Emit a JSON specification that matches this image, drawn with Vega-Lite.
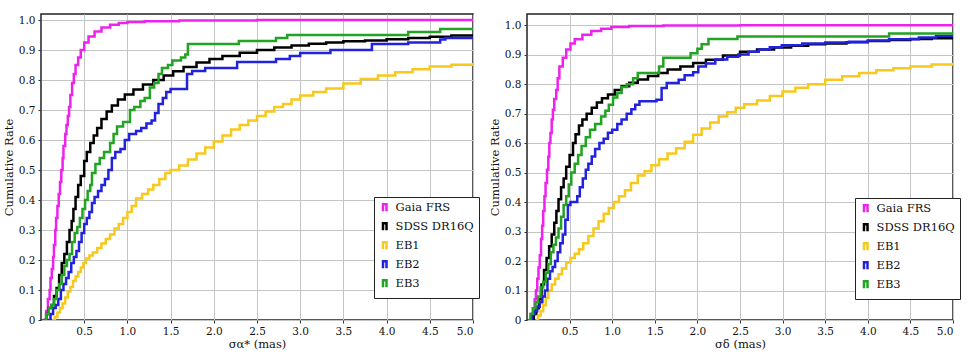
{
  "$schema": "https://vega.github.io/schema/vega-lite/v6.json",
  "background": "white",
  "padding": {"left": 2, "top": 13, "right": 5, "bottom": 0},
  "spacing": 7,
  "config": {
    "font": "DejaVu Serif",
    "view": {"stroke": "#222222", "strokeWidth": 1.5},
    "axis": {
      "grid": true, "gridColor": "#c4c4c4", "gridWidth": 1, "gridOpacity": 1,
      "domain": false, "tickColor": "#333333", "tickSize": 3,
      "labelFont": "DejaVu Serif", "labelFontSize": 10.5, "labelColor": "#111111", "labelPadding": 3,
      "titleFont": "DejaVu Serif", "titleFontSize": 11.5, "titleFontWeight": "normal", "titleColor": "#111111"
    },
    "legend": {
      "orient": "none",
      "strokeColor": "#222222", "fillColor": "white", "padding": 5,
      "symbolType": "M-0.5,1L-0.5,-1L0.5,-1L0.5,1",
      "symbolSize": 50, "symbolStrokeWidth": 2.5,
      "labelFont": "DejaVu Serif", "labelFontSize": 11.5, "labelColor": "#111111",
      "rowPadding": 1, "labelOffset": 5, "labelLimit": 200
    }
  },
  "resolve": {"scale": {"color": "independent"}, "legend": {"color": "independent"}},
  "datasets": {
    "left": [
      {"s":"Gaia FRS","x":0.03,"y":0},{"s":"Gaia FRS","x":0.06,"y":0.03},{"s":"Gaia FRS","x":0.08,"y":0.07},{"s":"Gaia FRS","x":0.10,"y":0.10},{"s":"Gaia FRS","x":0.11,"y":0.14},{"s":"Gaia FRS","x":0.125,"y":0.17},{"s":"Gaia FRS","x":0.14,"y":0.21},{"s":"Gaia FRS","x":0.15,"y":0.25},{"s":"Gaia FRS","x":0.165,"y":0.30},{"s":"Gaia FRS","x":0.175,"y":0.34},{"s":"Gaia FRS","x":0.19,"y":0.38},{"s":"Gaia FRS","x":0.205,"y":0.42},{"s":"Gaia FRS","x":0.22,"y":0.46},{"s":"Gaia FRS","x":0.235,"y":0.50},{"s":"Gaia FRS","x":0.25,"y":0.54},{"s":"Gaia FRS","x":0.26,"y":0.58},{"s":"Gaia FRS","x":0.28,"y":0.62},{"s":"Gaia FRS","x":0.295,"y":0.65},{"s":"Gaia FRS","x":0.31,"y":0.68},{"s":"Gaia FRS","x":0.325,"y":0.71},{"s":"Gaia FRS","x":0.34,"y":0.75},{"s":"Gaia FRS","x":0.36,"y":0.79},{"s":"Gaia FRS","x":0.38,"y":0.82},{"s":"Gaia FRS","x":0.40,"y":0.85},{"s":"Gaia FRS","x":0.43,"y":0.875},{"s":"Gaia FRS","x":0.46,"y":0.90},{"s":"Gaia FRS","x":0.50,"y":0.925},{"s":"Gaia FRS","x":0.55,"y":0.945},{"s":"Gaia FRS","x":0.62,"y":0.962},{"s":"Gaia FRS","x":0.70,"y":0.975},{"s":"Gaia FRS","x":0.80,"y":0.984},{"s":"Gaia FRS","x":0.90,"y":0.99},{"s":"Gaia FRS","x":1.0,"y":0.993},{"s":"Gaia FRS","x":1.2,"y":0.996},{"s":"Gaia FRS","x":1.6,"y":0.998},{"s":"Gaia FRS","x":2.5,"y":1.0},{"s":"Gaia FRS","x":5.0,"y":1.0},
      {"s":"SDSS DR16Q","x":0.03,"y":0},{"s":"SDSS DR16Q","x":0.06,"y":0.02},{"s":"SDSS DR16Q","x":0.09,"y":0.04},{"s":"SDSS DR16Q","x":0.12,"y":0.05},{"s":"SDSS DR16Q","x":0.15,"y":0.08},{"s":"SDSS DR16Q","x":0.18,"y":0.107},{"s":"SDSS DR16Q","x":0.21,"y":0.15},{"s":"SDSS DR16Q","x":0.24,"y":0.19},{"s":"SDSS DR16Q","x":0.27,"y":0.22},{"s":"SDSS DR16Q","x":0.30,"y":0.26},{"s":"SDSS DR16Q","x":0.33,"y":0.30},{"s":"SDSS DR16Q","x":0.355,"y":0.33},{"s":"SDSS DR16Q","x":0.375,"y":0.37},{"s":"SDSS DR16Q","x":0.40,"y":0.41},{"s":"SDSS DR16Q","x":0.43,"y":0.45},{"s":"SDSS DR16Q","x":0.46,"y":0.48},{"s":"SDSS DR16Q","x":0.50,"y":0.53},{"s":"SDSS DR16Q","x":0.53,"y":0.56},{"s":"SDSS DR16Q","x":0.57,"y":0.59},{"s":"SDSS DR16Q","x":0.61,"y":0.615},{"s":"SDSS DR16Q","x":0.65,"y":0.64},{"s":"SDSS DR16Q","x":0.70,"y":0.67},{"s":"SDSS DR16Q","x":0.76,"y":0.695},{"s":"SDSS DR16Q","x":0.82,"y":0.715},{"s":"SDSS DR16Q","x":0.89,"y":0.735},{"s":"SDSS DR16Q","x":0.97,"y":0.752},{"s":"SDSS DR16Q","x":1.07,"y":0.768},{"s":"SDSS DR16Q","x":1.18,"y":0.785},{"s":"SDSS DR16Q","x":1.30,"y":0.80},{"s":"SDSS DR16Q","x":1.42,"y":0.815},{"s":"SDSS DR16Q","x":1.53,"y":0.829},{"s":"SDSS DR16Q","x":1.65,"y":0.843},{"s":"SDSS DR16Q","x":1.80,"y":0.858},{"s":"SDSS DR16Q","x":1.95,"y":0.87},{"s":"SDSS DR16Q","x":2.1,"y":0.88},{"s":"SDSS DR16Q","x":2.3,"y":0.891},{"s":"SDSS DR16Q","x":2.5,"y":0.90},{"s":"SDSS DR16Q","x":2.7,"y":0.908},{"s":"SDSS DR16Q","x":2.9,"y":0.915},{"s":"SDSS DR16Q","x":3.1,"y":0.921},{"s":"SDSS DR16Q","x":3.3,"y":0.925},{"s":"SDSS DR16Q","x":3.5,"y":0.929},{"s":"SDSS DR16Q","x":3.75,"y":0.932},{"s":"SDSS DR16Q","x":4.0,"y":0.936},{"s":"SDSS DR16Q","x":4.25,"y":0.94},{"s":"SDSS DR16Q","x":4.5,"y":0.944},{"s":"SDSS DR16Q","x":4.75,"y":0.948},{"s":"SDSS DR16Q","x":5.0,"y":0.952},
      {"s":"EB1","x":0.13,"y":0},{"s":"EB1","x":0.16,"y":0.01},{"s":"EB1","x":0.19,"y":0.025},{"s":"EB1","x":0.22,"y":0.04},{"s":"EB1","x":0.25,"y":0.055},{"s":"EB1","x":0.28,"y":0.075},{"s":"EB1","x":0.31,"y":0.095},{"s":"EB1","x":0.34,"y":0.11},{"s":"EB1","x":0.37,"y":0.13},{"s":"EB1","x":0.40,"y":0.145},{"s":"EB1","x":0.43,"y":0.16},{"s":"EB1","x":0.46,"y":0.175},{"s":"EB1","x":0.49,"y":0.19},{"s":"EB1","x":0.52,"y":0.205},{"s":"EB1","x":0.56,"y":0.215},{"s":"EB1","x":0.60,"y":0.225},{"s":"EB1","x":0.65,"y":0.24},{"s":"EB1","x":0.70,"y":0.255},{"s":"EB1","x":0.75,"y":0.27},{"s":"EB1","x":0.80,"y":0.285},{"s":"EB1","x":0.85,"y":0.305},{"s":"EB1","x":0.90,"y":0.32},{"s":"EB1","x":0.95,"y":0.34},{"s":"EB1","x":1.00,"y":0.36},{"s":"EB1","x":1.05,"y":0.38},{"s":"EB1","x":1.10,"y":0.405},{"s":"EB1","x":1.17,"y":0.42},{"s":"EB1","x":1.24,"y":0.435},{"s":"EB1","x":1.30,"y":0.45},{"s":"EB1","x":1.37,"y":0.47},{"s":"EB1","x":1.44,"y":0.49},{"s":"EB1","x":1.50,"y":0.50},{"s":"EB1","x":1.6,"y":0.515},{"s":"EB1","x":1.7,"y":0.535},{"s":"EB1","x":1.8,"y":0.555},{"s":"EB1","x":1.9,"y":0.575},{"s":"EB1","x":2.0,"y":0.595},{"s":"EB1","x":2.1,"y":0.615},{"s":"EB1","x":2.2,"y":0.635},{"s":"EB1","x":2.3,"y":0.65},{"s":"EB1","x":2.4,"y":0.665},{"s":"EB1","x":2.5,"y":0.68},{"s":"EB1","x":2.6,"y":0.695},{"s":"EB1","x":2.7,"y":0.71},{"s":"EB1","x":2.8,"y":0.72},{"s":"EB1","x":2.9,"y":0.735},{"s":"EB1","x":3.0,"y":0.748},{"s":"EB1","x":3.15,"y":0.76},{"s":"EB1","x":3.3,"y":0.772},{"s":"EB1","x":3.5,"y":0.788},{"s":"EB1","x":3.7,"y":0.803},{"s":"EB1","x":3.9,"y":0.815},{"s":"EB1","x":4.1,"y":0.826},{"s":"EB1","x":4.3,"y":0.836},{"s":"EB1","x":4.5,"y":0.845},{"s":"EB1","x":4.75,"y":0.851},{"s":"EB1","x":5.0,"y":0.857},
      {"s":"EB2","x":0.08,"y":0},{"s":"EB2","x":0.11,"y":0.02},{"s":"EB2","x":0.14,"y":0.04},{"s":"EB2","x":0.17,"y":0.05},{"s":"EB2","x":0.20,"y":0.07},{"s":"EB2","x":0.23,"y":0.10},{"s":"EB2","x":0.26,"y":0.12},{"s":"EB2","x":0.29,"y":0.14},{"s":"EB2","x":0.32,"y":0.16},{"s":"EB2","x":0.35,"y":0.19},{"s":"EB2","x":0.38,"y":0.21},{"s":"EB2","x":0.41,"y":0.23},{"s":"EB2","x":0.44,"y":0.26},{"s":"EB2","x":0.47,"y":0.29},{"s":"EB2","x":0.50,"y":0.32},{"s":"EB2","x":0.53,"y":0.34},{"s":"EB2","x":0.56,"y":0.36},{"s":"EB2","x":0.59,"y":0.39},{"s":"EB2","x":0.62,"y":0.41},{"s":"EB2","x":0.66,"y":0.43},{"s":"EB2","x":0.70,"y":0.45},{"s":"EB2","x":0.74,"y":0.47},{"s":"EB2","x":0.78,"y":0.50},{"s":"EB2","x":0.82,"y":0.54},{"s":"EB2","x":0.86,"y":0.56},{"s":"EB2","x":0.92,"y":0.57},{"s":"EB2","x":0.97,"y":0.60},{"s":"EB2","x":1.02,"y":0.62},{"s":"EB2","x":1.10,"y":0.63},{"s":"EB2","x":1.16,"y":0.64},{"s":"EB2","x":1.22,"y":0.655},{"s":"EB2","x":1.28,"y":0.665},{"s":"EB2","x":1.32,"y":0.69},{"s":"EB2","x":1.36,"y":0.72},{"s":"EB2","x":1.41,"y":0.74},{"s":"EB2","x":1.45,"y":0.76},{"s":"EB2","x":1.50,"y":0.77},{"s":"EB2","x":1.69,"y":0.82},{"s":"EB2","x":1.75,"y":0.83},{"s":"EB2","x":1.90,"y":0.84},{"s":"EB2","x":2.27,"y":0.86},{"s":"EB2","x":2.72,"y":0.87},{"s":"EB2","x":2.88,"y":0.88},{"s":"EB2","x":3.0,"y":0.89},{"s":"EB2","x":3.35,"y":0.90},{"s":"EB2","x":3.83,"y":0.92},{"s":"EB2","x":4.25,"y":0.925},{"s":"EB2","x":4.62,"y":0.935},{"s":"EB2","x":4.68,"y":0.94},{"s":"EB2","x":5.0,"y":0.94},
      {"s":"EB3","x":0.03,"y":0},{"s":"EB3","x":0.06,"y":0.02},{"s":"EB3","x":0.09,"y":0.04},{"s":"EB3","x":0.12,"y":0.05},{"s":"EB3","x":0.15,"y":0.07},{"s":"EB3","x":0.18,"y":0.10},{"s":"EB3","x":0.21,"y":0.12},{"s":"EB3","x":0.24,"y":0.15},{"s":"EB3","x":0.27,"y":0.18},{"s":"EB3","x":0.30,"y":0.20},{"s":"EB3","x":0.33,"y":0.22},{"s":"EB3","x":0.36,"y":0.26},{"s":"EB3","x":0.39,"y":0.29},{"s":"EB3","x":0.42,"y":0.31},{"s":"EB3","x":0.45,"y":0.34},{"s":"EB3","x":0.48,"y":0.37},{"s":"EB3","x":0.51,"y":0.40},{"s":"EB3","x":0.54,"y":0.43},{"s":"EB3","x":0.57,"y":0.45},{"s":"EB3","x":0.59,"y":0.49},{"s":"EB3","x":0.63,"y":0.52},{"s":"EB3","x":0.68,"y":0.54},{"s":"EB3","x":0.73,"y":0.56},{"s":"EB3","x":0.80,"y":0.59},{"s":"EB3","x":0.84,"y":0.62},{"s":"EB3","x":0.88,"y":0.645},{"s":"EB3","x":0.95,"y":0.66},{"s":"EB3","x":1.03,"y":0.70},{"s":"EB3","x":1.08,"y":0.71},{"s":"EB3","x":1.15,"y":0.73},{"s":"EB3","x":1.20,"y":0.74},{"s":"EB3","x":1.26,"y":0.775},{"s":"EB3","x":1.31,"y":0.79},{"s":"EB3","x":1.36,"y":0.82},{"s":"EB3","x":1.40,"y":0.84},{"s":"EB3","x":1.47,"y":0.85},{"s":"EB3","x":1.52,"y":0.865},{"s":"EB3","x":1.62,"y":0.875},{"s":"EB3","x":1.67,"y":0.885},{"s":"EB3","x":1.70,"y":0.92},{"s":"EB3","x":2.29,"y":0.93},{"s":"EB3","x":2.72,"y":0.94},{"s":"EB3","x":2.85,"y":0.95},{"s":"EB3","x":4.25,"y":0.96},{"s":"EB3","x":4.62,"y":0.97},{"s":"EB3","x":5.0,"y":0.97}
    ],
    "right": [
      {"s":"Gaia FRS","x":0.03,"y":0},{"s":"Gaia FRS","x":0.05,"y":0.02},{"s":"Gaia FRS","x":0.07,"y":0.04},{"s":"Gaia FRS","x":0.09,"y":0.07},{"s":"Gaia FRS","x":0.105,"y":0.10},{"s":"Gaia FRS","x":0.12,"y":0.14},{"s":"Gaia FRS","x":0.135,"y":0.178},{"s":"Gaia FRS","x":0.15,"y":0.22},{"s":"Gaia FRS","x":0.165,"y":0.275},{"s":"Gaia FRS","x":0.178,"y":0.32},{"s":"Gaia FRS","x":0.19,"y":0.37},{"s":"Gaia FRS","x":0.205,"y":0.42},{"s":"Gaia FRS","x":0.218,"y":0.465},{"s":"Gaia FRS","x":0.235,"y":0.51},{"s":"Gaia FRS","x":0.25,"y":0.554},{"s":"Gaia FRS","x":0.262,"y":0.60},{"s":"Gaia FRS","x":0.275,"y":0.634},{"s":"Gaia FRS","x":0.29,"y":0.68},{"s":"Gaia FRS","x":0.304,"y":0.713},{"s":"Gaia FRS","x":0.32,"y":0.75},{"s":"Gaia FRS","x":0.343,"y":0.78},{"s":"Gaia FRS","x":0.36,"y":0.82},{"s":"Gaia FRS","x":0.38,"y":0.86},{"s":"Gaia FRS","x":0.42,"y":0.89},{"s":"Gaia FRS","x":0.46,"y":0.918},{"s":"Gaia FRS","x":0.51,"y":0.938},{"s":"Gaia FRS","x":0.56,"y":0.952},{"s":"Gaia FRS","x":0.65,"y":0.968},{"s":"Gaia FRS","x":0.755,"y":0.98},{"s":"Gaia FRS","x":0.87,"y":0.988},{"s":"Gaia FRS","x":0.99,"y":0.994},{"s":"Gaia FRS","x":1.2,"y":0.997},{"s":"Gaia FRS","x":1.6,"y":0.999},{"s":"Gaia FRS","x":2.5,"y":1.0},{"s":"Gaia FRS","x":5.0,"y":1.0},
      {"s":"SDSS DR16Q","x":0.05,"y":0},{"s":"SDSS DR16Q","x":0.08,"y":0.02},{"s":"SDSS DR16Q","x":0.11,"y":0.04},{"s":"SDSS DR16Q","x":0.14,"y":0.07},{"s":"SDSS DR16Q","x":0.17,"y":0.12},{"s":"SDSS DR16Q","x":0.20,"y":0.17},{"s":"SDSS DR16Q","x":0.23,"y":0.21},{"s":"SDSS DR16Q","x":0.26,"y":0.25},{"s":"SDSS DR16Q","x":0.29,"y":0.29},{"s":"SDSS DR16Q","x":0.32,"y":0.33},{"s":"SDSS DR16Q","x":0.345,"y":0.37},{"s":"SDSS DR16Q","x":0.37,"y":0.41},{"s":"SDSS DR16Q","x":0.40,"y":0.45},{"s":"SDSS DR16Q","x":0.43,"y":0.48},{"s":"SDSS DR16Q","x":0.46,"y":0.52},{"s":"SDSS DR16Q","x":0.50,"y":0.56},{"s":"SDSS DR16Q","x":0.54,"y":0.60},{"s":"SDSS DR16Q","x":0.57,"y":0.63},{"s":"SDSS DR16Q","x":0.61,"y":0.66},{"s":"SDSS DR16Q","x":0.65,"y":0.68},{"s":"SDSS DR16Q","x":0.70,"y":0.70},{"s":"SDSS DR16Q","x":0.76,"y":0.72},{"s":"SDSS DR16Q","x":0.82,"y":0.738},{"s":"SDSS DR16Q","x":0.88,"y":0.752},{"s":"SDSS DR16Q","x":0.95,"y":0.765},{"s":"SDSS DR16Q","x":1.03,"y":0.78},{"s":"SDSS DR16Q","x":1.11,"y":0.793},{"s":"SDSS DR16Q","x":1.2,"y":0.805},{"s":"SDSS DR16Q","x":1.30,"y":0.816},{"s":"SDSS DR16Q","x":1.42,"y":0.828},{"s":"SDSS DR16Q","x":1.54,"y":0.838},{"s":"SDSS DR16Q","x":1.65,"y":0.85},{"s":"SDSS DR16Q","x":1.8,"y":0.86},{"s":"SDSS DR16Q","x":1.95,"y":0.872},{"s":"SDSS DR16Q","x":2.1,"y":0.883},{"s":"SDSS DR16Q","x":2.3,"y":0.897},{"s":"SDSS DR16Q","x":2.5,"y":0.91},{"s":"SDSS DR16Q","x":2.7,"y":0.918},{"s":"SDSS DR16Q","x":2.9,"y":0.924},{"s":"SDSS DR16Q","x":3.1,"y":0.93},{"s":"SDSS DR16Q","x":3.3,"y":0.935},{"s":"SDSS DR16Q","x":3.5,"y":0.938},{"s":"SDSS DR16Q","x":3.75,"y":0.942},{"s":"SDSS DR16Q","x":4.0,"y":0.946},{"s":"SDSS DR16Q","x":4.25,"y":0.95},{"s":"SDSS DR16Q","x":4.5,"y":0.953},{"s":"SDSS DR16Q","x":4.75,"y":0.956},{"s":"SDSS DR16Q","x":5.0,"y":0.958},
      {"s":"EB1","x":0.10,"y":0},{"s":"EB1","x":0.13,"y":0.015},{"s":"EB1","x":0.16,"y":0.03},{"s":"EB1","x":0.19,"y":0.05},{"s":"EB1","x":0.22,"y":0.075},{"s":"EB1","x":0.25,"y":0.10},{"s":"EB1","x":0.29,"y":0.12},{"s":"EB1","x":0.33,"y":0.14},{"s":"EB1","x":0.37,"y":0.155},{"s":"EB1","x":0.41,"y":0.175},{"s":"EB1","x":0.46,"y":0.195},{"s":"EB1","x":0.51,"y":0.21},{"s":"EB1","x":0.56,"y":0.225},{"s":"EB1","x":0.61,"y":0.24},{"s":"EB1","x":0.66,"y":0.26},{"s":"EB1","x":0.72,"y":0.285},{"s":"EB1","x":0.78,"y":0.31},{"s":"EB1","x":0.84,"y":0.335},{"s":"EB1","x":0.90,"y":0.36},{"s":"EB1","x":0.96,"y":0.38},{"s":"EB1","x":1.02,"y":0.40},{"s":"EB1","x":1.08,"y":0.42},{"s":"EB1","x":1.15,"y":0.44},{"s":"EB1","x":1.22,"y":0.465},{"s":"EB1","x":1.30,"y":0.49},{"s":"EB1","x":1.38,"y":0.505},{"s":"EB1","x":1.46,"y":0.525},{"s":"EB1","x":1.55,"y":0.545},{"s":"EB1","x":1.65,"y":0.565},{"s":"EB1","x":1.75,"y":0.583},{"s":"EB1","x":1.85,"y":0.605},{"s":"EB1","x":1.95,"y":0.628},{"s":"EB1","x":2.05,"y":0.65},{"s":"EB1","x":2.15,"y":0.67},{"s":"EB1","x":2.25,"y":0.69},{"s":"EB1","x":2.35,"y":0.705},{"s":"EB1","x":2.45,"y":0.72},{"s":"EB1","x":2.55,"y":0.732},{"s":"EB1","x":2.7,"y":0.745},{"s":"EB1","x":2.85,"y":0.76},{"s":"EB1","x":3.0,"y":0.775},{"s":"EB1","x":3.15,"y":0.788},{"s":"EB1","x":3.3,"y":0.80},{"s":"EB1","x":3.5,"y":0.815},{"s":"EB1","x":3.7,"y":0.827},{"s":"EB1","x":3.9,"y":0.838},{"s":"EB1","x":4.1,"y":0.847},{"s":"EB1","x":4.3,"y":0.854},{"s":"EB1","x":4.5,"y":0.86},{"s":"EB1","x":4.75,"y":0.867},{"s":"EB1","x":5.0,"y":0.873},
      {"s":"EB2","x":0.03,"y":0},{"s":"EB2","x":0.06,"y":0.02},{"s":"EB2","x":0.09,"y":0.03},{"s":"EB2","x":0.12,"y":0.045},{"s":"EB2","x":0.15,"y":0.06},{"s":"EB2","x":0.18,"y":0.08},{"s":"EB2","x":0.21,"y":0.10},{"s":"EB2","x":0.24,"y":0.14},{"s":"EB2","x":0.27,"y":0.165},{"s":"EB2","x":0.30,"y":0.18},{"s":"EB2","x":0.33,"y":0.20},{"s":"EB2","x":0.36,"y":0.23},{"s":"EB2","x":0.39,"y":0.26},{"s":"EB2","x":0.42,"y":0.29},{"s":"EB2","x":0.45,"y":0.34},{"s":"EB2","x":0.48,"y":0.39},{"s":"EB2","x":0.51,"y":0.40},{"s":"EB2","x":0.59,"y":0.42},{"s":"EB2","x":0.62,"y":0.45},{"s":"EB2","x":0.655,"y":0.48},{"s":"EB2","x":0.69,"y":0.51},{"s":"EB2","x":0.72,"y":0.53},{"s":"EB2","x":0.76,"y":0.555},{"s":"EB2","x":0.80,"y":0.58},{"s":"EB2","x":0.85,"y":0.60},{"s":"EB2","x":0.90,"y":0.615},{"s":"EB2","x":0.95,"y":0.635},{"s":"EB2","x":1.00,"y":0.645},{"s":"EB2","x":1.06,"y":0.665},{"s":"EB2","x":1.11,"y":0.68},{"s":"EB2","x":1.17,"y":0.70},{"s":"EB2","x":1.225,"y":0.715},{"s":"EB2","x":1.27,"y":0.73},{"s":"EB2","x":1.32,"y":0.742},{"s":"EB2","x":1.52,"y":0.747},{"s":"EB2","x":1.58,"y":0.787},{"s":"EB2","x":1.64,"y":0.804},{"s":"EB2","x":1.78,"y":0.815},{"s":"EB2","x":1.85,"y":0.83},{"s":"EB2","x":1.95,"y":0.84},{"s":"EB2","x":2.01,"y":0.86},{"s":"EB2","x":2.1,"y":0.87},{"s":"EB2","x":2.21,"y":0.884},{"s":"EB2","x":2.35,"y":0.893},{"s":"EB2","x":2.48,"y":0.901},{"s":"EB2","x":2.6,"y":0.91},{"s":"EB2","x":2.72,"y":0.918},{"s":"EB2","x":2.85,"y":0.925},{"s":"EB2","x":2.99,"y":0.932},{"s":"EB2","x":3.23,"y":0.938},{"s":"EB2","x":3.5,"y":0.941},{"s":"EB2","x":3.78,"y":0.944},{"s":"EB2","x":4.0,"y":0.948},{"s":"EB2","x":4.25,"y":0.952},{"s":"EB2","x":4.6,"y":0.958},{"s":"EB2","x":4.8,"y":0.963},{"s":"EB2","x":5.0,"y":0.966},
      {"s":"EB3","x":0.01,"y":0},{"s":"EB3","x":0.04,"y":0.02},{"s":"EB3","x":0.07,"y":0.04},{"s":"EB3","x":0.10,"y":0.06},{"s":"EB3","x":0.13,"y":0.08},{"s":"EB3","x":0.16,"y":0.11},{"s":"EB3","x":0.19,"y":0.13},{"s":"EB3","x":0.22,"y":0.16},{"s":"EB3","x":0.25,"y":0.19},{"s":"EB3","x":0.28,"y":0.23},{"s":"EB3","x":0.31,"y":0.255},{"s":"EB3","x":0.34,"y":0.28},{"s":"EB3","x":0.37,"y":0.31},{"s":"EB3","x":0.40,"y":0.35},{"s":"EB3","x":0.43,"y":0.39},{"s":"EB3","x":0.46,"y":0.42},{"s":"EB3","x":0.49,"y":0.46},{"s":"EB3","x":0.52,"y":0.50},{"s":"EB3","x":0.56,"y":0.53},{"s":"EB3","x":0.60,"y":0.56},{"s":"EB3","x":0.64,"y":0.59},{"s":"EB3","x":0.69,"y":0.62},{"s":"EB3","x":0.74,"y":0.645},{"s":"EB3","x":0.80,"y":0.665},{"s":"EB3","x":0.87,"y":0.69},{"s":"EB3","x":0.92,"y":0.71},{"s":"EB3","x":0.96,"y":0.73},{"s":"EB3","x":1.01,"y":0.755},{"s":"EB3","x":1.06,"y":0.77},{"s":"EB3","x":1.11,"y":0.79},{"s":"EB3","x":1.17,"y":0.80},{"s":"EB3","x":1.245,"y":0.82},{"s":"EB3","x":1.30,"y":0.838},{"s":"EB3","x":1.55,"y":0.86},{"s":"EB3","x":1.60,"y":0.89},{"s":"EB3","x":1.92,"y":0.905},{"s":"EB3","x":2.0,"y":0.92},{"s":"EB3","x":2.05,"y":0.935},{"s":"EB3","x":2.13,"y":0.953},{"s":"EB3","x":2.47,"y":0.962},{"s":"EB3","x":4.25,"y":0.972},{"s":"EB3","x":5.0,"y":0.972}
    ]
  },
  "hconcat": [
    {
      "width": 432,
      "height": 306,
      "data": {"name": "left"},
      "mark": {"type": "line", "interpolate": "step-after", "strokeWidth": 2.5, "clip": true},
      "encoding": {
        "x": {"field": "x", "type": "quantitative", "scale": {"domain": [0, 5], "nice": false, "zero": false},
          "axis": {"grid": true, "values": [0.5, 1, 1.5, 2, 2.5, 3, 3.5, 4, 4.5, 5], "format": ".1f", "title": "σα* (mas)", "titlePadding": 2}},
        "y": {"field": "y", "type": "quantitative", "scale": {"domain": [0, 1.02], "nice": false},
          "axis": {"grid": true, "values": [0, 0.1, 0.2, 0.3, 0.4, 0.5, 0.6, 0.7, 0.8, 0.9, 1.0], "labelExpr": "datum.value == 0 ? '0' : format(datum.value, '.1f')", "title": "Cumulative Rate", "titlePadding": 4}},
        "color": {"field": "s", "type": "nominal",
          "scale": {"domain": ["Gaia FRS", "SDSS DR16Q", "EB1", "EB2", "EB3"], "range": ["#ee22ee", "#000000", "#f8c81c", "#2222dd", "#22a322"]},
          "legend": {"title": null, "legendX": 333, "legendY": 183, "encode": {"symbols": {"update": {"fill": {"value": "transparent"}}}}}}
      }
    },
    {
      "width": 426,
      "height": 306,
      "data": {"name": "right"},
      "mark": {"type": "line", "interpolate": "step-after", "strokeWidth": 2.5, "clip": true},
      "encoding": {
        "x": {"field": "x", "type": "quantitative", "scale": {"domain": [0, 5], "nice": false, "zero": false},
          "axis": {"grid": true, "values": [0.5, 1, 1.5, 2, 2.5, 3, 3.5, 4, 4.5, 5], "format": ".1f", "title": "σδ (mas)", "titlePadding": 2}},
        "y": {"field": "y", "type": "quantitative", "scale": {"domain": [0, 1.038], "nice": false},
          "axis": {"grid": true, "values": [0, 0.1, 0.2, 0.3, 0.4, 0.5, 0.6, 0.7, 0.8, 0.9, 1.0], "labelExpr": "datum.value == 0 ? '0' : format(datum.value, '.1f')", "title": "Cumulative Rate", "titlePadding": 4}},
        "color": {"field": "s", "type": "nominal",
          "scale": {"domain": ["Gaia FRS", "SDSS DR16Q", "EB1", "EB2", "EB3"], "range": ["#ee22ee", "#000000", "#f8c81c", "#2222dd", "#22a322"]},
          "legend": {"title": null, "legendX": 328, "legendY": 184, "encode": {"symbols": {"update": {"fill": {"value": "transparent"}}}}}}
      }
    }
  ]
}
